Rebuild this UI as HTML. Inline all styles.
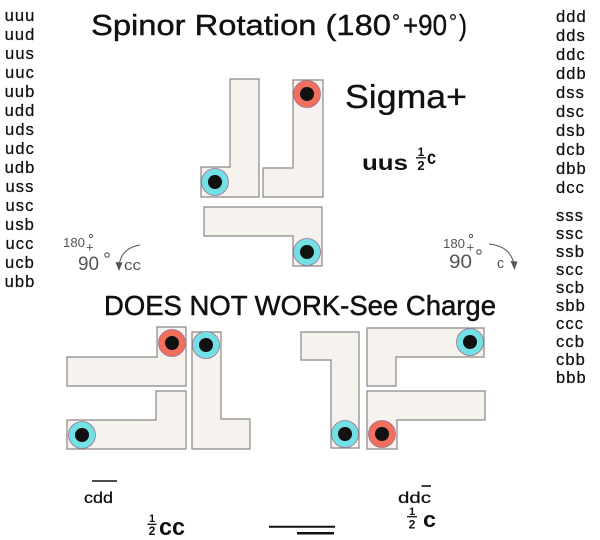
<!DOCTYPE html>
<html>
<head>
<meta charset="utf-8">
<style>
html,body{margin:0;padding:0;background:#fff;}
svg{display:block;}
text{font-family:"Liberation Sans",sans-serif;fill:#111;}
.col{font-size:16.5px;letter-spacing:1.1px;stroke:#111;stroke-width:0.25px;}
.g{fill:#555;}
</style>
</head>
<body>
<svg width="600" height="540" viewBox="0 0 600 540" xmlns="http://www.w3.org/2000/svg">
<rect width="600" height="540" fill="#fff"/>

<!-- Title -->
<text x="91" y="35" font-size="29" textLength="300" lengthAdjust="spacingAndGlyphs" stroke="#111" stroke-width="0.4">Spinor Rotation (180</text>
<circle cx="396" cy="17" r="2.3" fill="none" stroke="#111" stroke-width="1.3"/>
<text x="403" y="35" font-size="29" textLength="44" lengthAdjust="spacingAndGlyphs" stroke="#111" stroke-width="0.4">+90</text>
<circle cx="453" cy="17" r="2.3" fill="none" stroke="#111" stroke-width="1.3"/>
<text x="459" y="35" font-size="29" textLength="8" lengthAdjust="spacingAndGlyphs" stroke="#111" stroke-width="0.4">)</text>

<!-- Left column -->
<g class="col" text-anchor="middle">
<text x="20" y="21">uuu</text>
<text x="20" y="40">uud</text>
<text x="20" y="59">uus</text>
<text x="20" y="78">uuc</text>
<text x="20" y="97">uub</text>
<text x="20" y="116">udd</text>
<text x="20" y="135">uds</text>
<text x="20" y="154">udc</text>
<text x="20" y="173">udb</text>
<text x="20" y="192">uss</text>
<text x="20" y="211">usc</text>
<text x="20" y="230">usb</text>
<text x="20" y="249">ucc</text>
<text x="20" y="268">ucb</text>
<text x="20" y="287">ubb</text>
</g>

<!-- Right column -->
<g class="col">
<text x="556" y="22">ddd</text>
<text x="556" y="41">dds</text>
<text x="556" y="60">ddc</text>
<text x="556" y="79">ddb</text>
<text x="556" y="98">dss</text>
<text x="556" y="117">dsc</text>
<text x="556" y="136">dsb</text>
<text x="556" y="155">dcb</text>
<text x="556" y="174">dbb</text>
<text x="556" y="193">dcc</text>
<text x="556" y="221">sss</text>
<text x="556" y="239">ssc</text>
<text x="556" y="257">ssb</text>
<text x="556" y="275">scc</text>
<text x="556" y="293">scb</text>
<text x="556" y="311">sbb</text>
<text x="556" y="329">ccc</text>
<text x="556" y="347">ccb</text>
<text x="556" y="365">cbb</text>
<text x="556" y="383">bbb</text>
</g>

<!-- Shapes -->
<g fill="#f6f3ee" stroke="#8a8784" stroke-width="1.2">
<polygon points="230,79 259,79 259,197 201,197 201,167 230,167"/>
<polygon points="293,80 323,80 323,197 263,197 263,168 293,168"/>
<polygon points="204,207 322,207 322,266 293,266 293,236 204,236"/>
<polygon points="157,327 186,327 186,386 67,386 67,357 157,357"/>
<polygon points="156,391 186,391 186,449 67,449 67,420 156,420"/>
<polygon points="192,332 221,332 221,419 250,419 250,449 192,449"/>
<polygon points="301,332 359,332 359,448 331,448 331,360 301,360"/>
<polygon points="367,328 484,328 484,357 396,357 396,386 367,386"/>
<polygon points="367,391 485,391 485,420 397,420 397,449 367,449"/>
</g>

<!-- Circles -->
<g stroke="#a07090" stroke-width="0.8">
<circle cx="215" cy="182" r="13.5" fill="#72e0e4"/>
<circle cx="307" cy="94" r="13.5" fill="#f26f5e"/>
<circle cx="307" cy="252" r="13.5" fill="#72e0e4"/>
<circle cx="172" cy="343" r="13.5" fill="#f26f5e"/>
<circle cx="82" cy="435" r="13.5" fill="#72e0e4"/>
<circle cx="206" cy="345" r="13.5" fill="#72e0e4"/>
<circle cx="345" cy="434" r="13.5" fill="#72e0e4"/>
<circle cx="470" cy="342" r="13.5" fill="#72e0e4"/>
<circle cx="382" cy="434" r="13.5" fill="#f26f5e"/>
</g>
<g fill="#111">
<circle cx="215" cy="182" r="7"/>
<circle cx="307" cy="94" r="7"/>
<circle cx="307" cy="252" r="7"/>
<circle cx="172" cy="343" r="7"/>
<circle cx="82" cy="435" r="7"/>
<circle cx="206" cy="345" r="7"/>
<circle cx="345" cy="434" r="7"/>
<circle cx="470" cy="342" r="7"/>
<circle cx="382" cy="434" r="7"/>
</g>

<!-- Sigma+ -->
<text x="345" y="108" font-size="33" textLength="122" lengthAdjust="spacingAndGlyphs" stroke="#111" stroke-width="0.3">Sigma+</text>
<text x="362" y="170" font-size="21" font-weight="bold" textLength="46" lengthAdjust="spacingAndGlyphs">uus</text>
<text x="421" y="156" font-size="12" font-weight="bold" text-anchor="middle">1</text>
<line x1="416" y1="157.8" x2="426" y2="157.8" stroke="#111" stroke-width="1.3"/>
<text x="421" y="170" font-size="13" font-weight="bold" text-anchor="middle">2</text>
<text x="427" y="164" font-size="19" font-weight="bold" textLength="9" lengthAdjust="spacingAndGlyphs">c</text>

<!-- DOES NOT WORK -->
<text x="104" y="315" font-size="28" textLength="392" lengthAdjust="spacingAndGlyphs" stroke="#111" stroke-width="0.5">DOES NOT WORK-See Charge</text>

<!-- Left rotation label -->
<text class="g" x="63" y="247" font-size="13" textLength="22" lengthAdjust="spacingAndGlyphs">180</text>
<text class="g" x="86" y="251.5" font-size="13">+</text>
<circle cx="91" cy="236" r="1.6" fill="none" stroke="#555" stroke-width="1"/>
<text class="g" x="78" y="270" font-size="19" textLength="21" lengthAdjust="spacingAndGlyphs">90</text>
<circle cx="107" cy="255" r="2.2" fill="none" stroke="#555" stroke-width="1.1"/>
<text class="g" x="124" y="270" font-size="15" textLength="17" lengthAdjust="spacingAndGlyphs">cc</text>
<path d="M140,245 Q121,248 119,266" fill="none" stroke="#555" stroke-width="1"/>
<polygon points="115.5,262 122.5,262.5 119,271" fill="#555"/>

<!-- Right rotation label -->
<text class="g" x="443" y="248" font-size="13" textLength="22" lengthAdjust="spacingAndGlyphs">180</text>
<text class="g" x="466.5" y="251.5" font-size="13">+</text>
<circle cx="471" cy="236" r="1.6" fill="none" stroke="#555" stroke-width="1"/>
<text class="g" x="449" y="268" font-size="19" textLength="23" lengthAdjust="spacingAndGlyphs">90</text>
<circle cx="479" cy="252" r="2.2" fill="none" stroke="#555" stroke-width="1.1"/>
<text class="g" x="497" y="268" font-size="15" textLength="7" lengthAdjust="spacingAndGlyphs">c</text>
<path d="M489,244 Q510,246 514,264" fill="none" stroke="#555" stroke-width="1"/>
<polygon points="510.5,261 517.5,261.5 514.5,270" fill="#555"/>

<!-- Bottom labels -->
<text x="84" y="503" font-size="16" textLength="29" lengthAdjust="spacingAndGlyphs" stroke="#111" stroke-width="0.25">cdd</text>
<line x1="92" y1="481" x2="117" y2="481" stroke="#111" stroke-width="1.6"/>

<text x="152" y="522" font-size="11" font-weight="bold" text-anchor="middle">1</text>
<line x1="147.5" y1="524.3" x2="156.5" y2="524.3" stroke="#111" stroke-width="1.3"/>
<text x="152" y="535" font-size="12" font-weight="bold" text-anchor="middle">2</text>
<text x="159" y="535" font-size="24" font-weight="bold" textLength="26" lengthAdjust="spacingAndGlyphs">cc</text>

<line x1="269" y1="526.7" x2="335" y2="526.7" stroke="#111" stroke-width="2"/>
<line x1="297" y1="533.3" x2="334" y2="533.3" stroke="#111" stroke-width="2.5"/>

<text x="398" y="503" font-size="16" textLength="33" lengthAdjust="spacingAndGlyphs" stroke="#111" stroke-width="0.25">ddc</text>
<line x1="421.5" y1="486" x2="431" y2="486" stroke="#111" stroke-width="1.6"/>

<text x="412" y="515" font-size="11" font-weight="bold" text-anchor="middle">1</text>
<line x1="407" y1="516.7" x2="417" y2="516.7" stroke="#111" stroke-width="1.3"/>
<text x="412" y="528.5" font-size="12" font-weight="bold" text-anchor="middle">2</text>
<text x="423" y="527" font-size="22" font-weight="bold" textLength="13" lengthAdjust="spacingAndGlyphs">c</text>
</svg>
</body>
</html>
